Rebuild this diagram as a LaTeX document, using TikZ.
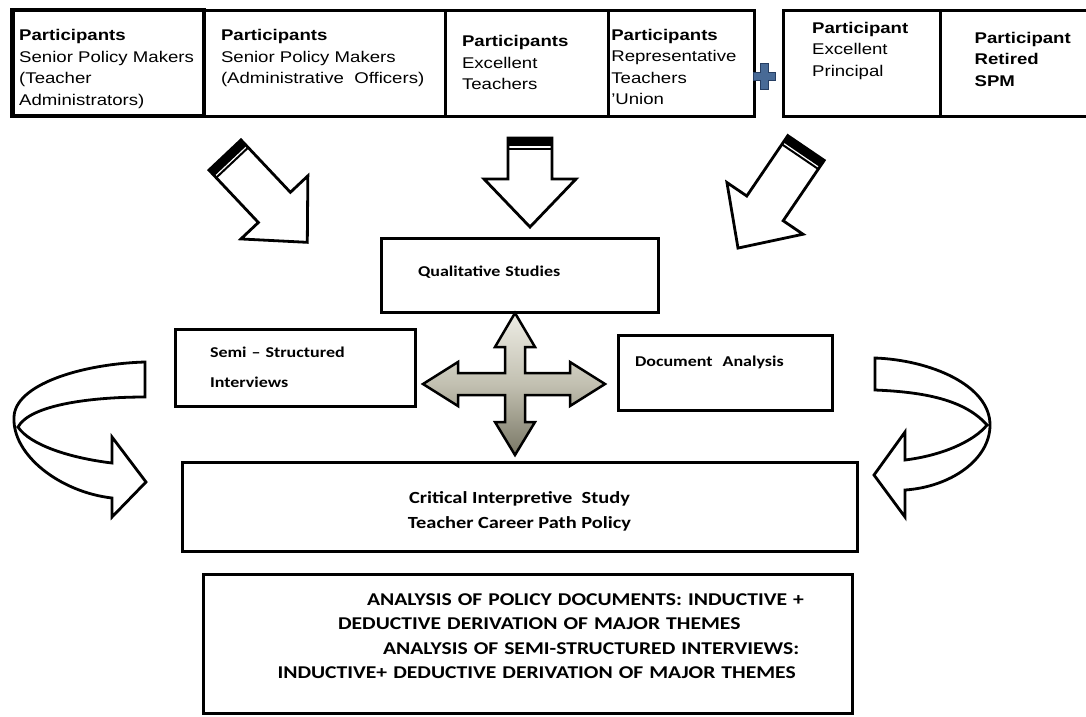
\documentclass[tikz,border=0pt]{standalone}
\usepackage{fontspec}
\setmainfont{Liberation Sans}[FakeStretch=1.2]
\newfontfamily\calfont{Carlito}[FakeStretch=1.2]
\usetikzlibrary{positioning}

\definecolor{plusblue}{RGB}{72,106,150}
\definecolor{plusdark}{RGB}{38,62,98}
\definecolor{crosslight}{RGB}{238,237,229}
\definecolor{crossmid}{RGB}{194,192,177}
\definecolor{crossdark}{RGB}{122,120,102}

% fat block arrow: tail centre x, y, angle, length
\newcommand{\fatarrow}[4]{%
  \begin{scope}[shift={(#1,#2)}, rotate=#3]
    \draw[fatline] (0,-22) -- (#4-48,-22) -- (#4-48,-46) -- (#4,0) -- (#4-48,46) -- (#4-48,22) -- (0,22) -- cycle;
    \fill (0,-22) rectangle (8,22);
    \fill (9.5,-22) rectangle (11.5,22);
  \end{scope}}

\begin{document}
\begin{tikzpicture}[x=1pt, y=-1pt,
    partbox/.style={draw, rectangle, line width=3pt, outer sep=0pt, minimum height=106pt, align=left, text height=12pt, font=\fontsize{15.5}{21.5}\selectfont},
    studybox/.style={draw, rectangle, line width=3pt, outer sep=0pt, align=left, text height=12pt, font=\calfont\bfseries\fontsize{15}{30}\selectfont},
    fatline/.style={draw=black, line width=2.8pt, fill=white, line join=miter}]

    \useasboundingbox (0,0) rectangle (1086,716);

    % Participant groups in one row
    \node[partbox, line width=4.5pt, minimum width=191.5pt, text width=178pt, text depth=56.6pt] (smteach) at (108.25,63) {\textbf{Participants}\\Senior Policy Makers\\(Teacher\\Administrators)};
    \node[partbox, minimum width=241pt, text width=207pt, text depth=56.6pt, right=0pt of smteach] (smadmin) {\textbf{Participants}\\Senior Policy Makers\\(Administrative\ \ Officers)};
    \node[partbox, minimum width=163pt, text width=129pt, text depth=44.6pt, right=0pt of smadmin] (exteach) {\textbf{Participants}\\Excellent\\Teachers};
    \node[partbox, minimum width=142pt, text width=140pt, text depth=58pt, right=0pt of exteach] (union) {\textbf{Participants}\\Representative\\Teachers\\'Union};
    \node[partbox, minimum width=157pt, text width=100pt, text depth=72pt, right=29pt of union] (principal) {\textbf{Participant}\\Excellent\\Principal};
    \node[partbox, minimum width=180pt, text width=112pt, text depth=52pt, right=0pt of principal] (retired) {\textbf{Participant}\\\textbf{Retired}\\\textbf{SPM}};

    % plus sign between the two groups
    \draw[fill=plusblue, draw=plusdark, line width=1pt] (760,63) -- (768,63) -- (768,72) -- (775,72) -- (775,80) -- (768,80) -- (768,89) -- (760,89) -- (760,80) -- (753,80) -- (753,72) -- (760,72) -- cycle;

    % three block arrows down to the study
    \fatarrow{225}{155}{-46.7}{120}
    \fatarrow{530}{138}{-90}{89}
    \fatarrow{806}{148}{-124.2}{121}

    % study boxes
    \node[studybox, minimum width=277pt, minimum height=74pt, text width=203pt, text depth=10pt] (qual) at (519.5,275) {Qualitative Studies};
    \node[studybox, minimum width=240pt, minimum height=77pt, text width=170pt, text depth=32pt] (semi) at (295,367.5) {Semi – Structured\\Interviews};
    \node[studybox, minimum width=214pt, minimum height=75pt, text width=180pt, text depth=23.6pt] (docan) at (725,372.5) {Document\ \ Analysis};
    \node[studybox, align=center, minimum width=675pt, minimum height=89pt, text height=55pt, text depth=12pt, font=\calfont\bfseries\fontsize{17}{25}\selectfont] (cis) at (519.5,506.5) {Critical Interpretive\ \ Study\\Teacher Career Path Policy};
    \node[studybox, minimum width=649pt, minimum height=139pt, text width=600pt, text depth=89pt, font=\calfont\bfseries\fontsize{18}{24.6}\selectfont] (themes) at (527.5,643.5) {\hspace*{139.5pt}ANALYSIS OF POLICY DOCUMENTS: INDUCTIVE +\\\hspace*{110.5pt}DEDUCTIVE DERIVATION OF MAJOR THEMES\\\hspace*{155.5pt}ANALYSIS OF SEMI-STRUCTURED INTERVIEWS:\\\hspace*{50pt}INDUCTIVE+ DEDUCTIVE DERIVATION OF MAJOR THEMES};

    % four way arrow
    \draw[line width=2.5pt, line join=miter, top color=crosslight, bottom color=crossdark, middle color=crossmid] (515,313) -- (535,347) -- (525,347) -- (525,373) -- (570,373) -- (570,362) -- (605,384) -- (570,406) -- (570,395) -- (525,395) -- (525,422) -- (535,422) -- (515,455) -- (495,422) -- (505,422) -- (505,395) -- (458,395) -- (458,406) -- (423,384) -- (458,362) -- (458,373) -- (505,373) -- (505,347) -- (495,347) -- cycle;

    % turning arrows at both sides
    \draw[fatline] (145,362) .. controls (80,364) and (15,385) .. (14,417) .. controls (12,455) and (60,492) .. (112,498) -- (112,517) -- (146,482) -- (112,437) -- (112,463) .. controls (70,458) and (30,445) .. (18,427) .. controls (30,405) and (90,397) .. (145,397) -- cycle;
    \draw[fatline] (875,358) .. controls (930,360) and (990,385) .. (990,425) .. controls (990,460) and (950,487) .. (905,490) -- (905,517) -- (874,475) -- (905,432) -- (905,460) .. controls (945,455) and (975,440) .. (987,425) .. controls (965,400) and (925,392) .. (875,390) -- cycle;

\end{tikzpicture}
\end{document}
